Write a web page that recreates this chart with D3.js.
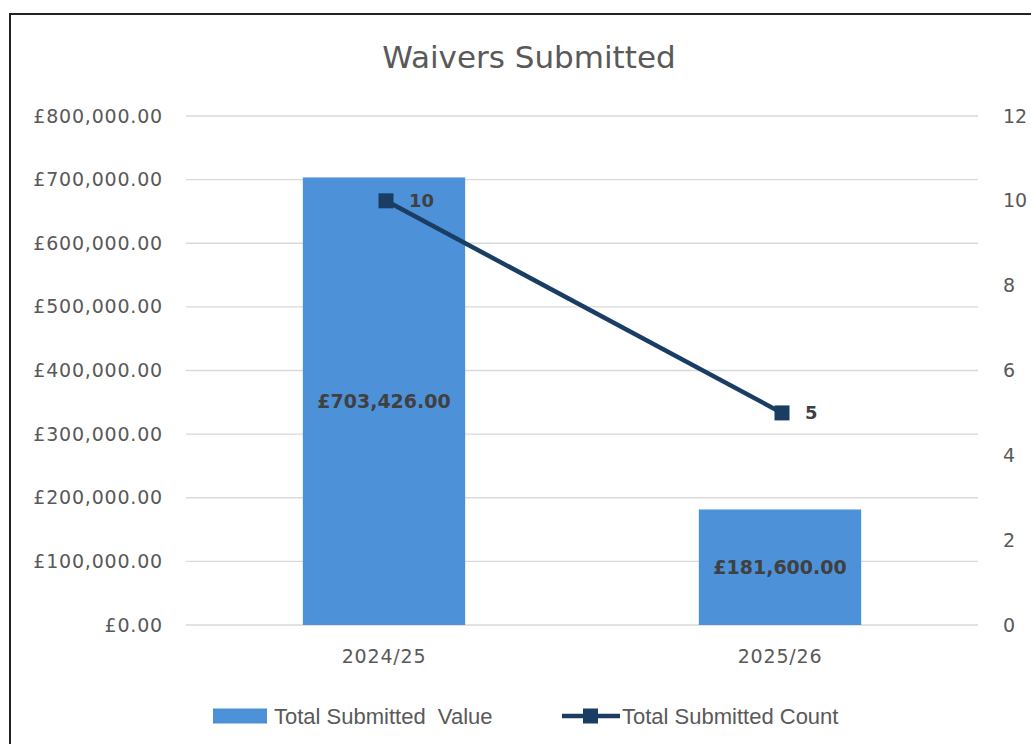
<!DOCTYPE html>
<html>
<head>
<meta charset="UTF-8">
<title>Waivers Submitted</title>
<script src="https://d3js.org/d3.v7.min.js"></script>
<style>
  body { margin: 0; background: #fff; }
  svg text { font-family: "DejaVu Sans", "Liberation Sans", Arial, sans-serif; }
</style>
</head>
<body>
<div id="chart"></div>
<script>
// data
var years = ["2024/25", "2025/26"];
var submittedValue = [703426, 181600];
var submittedCount = [10, 5];
var valueTicks = [0, 100000, 200000, 300000, 400000, 500000, 600000, 700000, 800000];
var countTicks = [0, 2, 4, 6, 8, 10, 12];
var seriesNames = ["Total Submitted  Value", "Total Submitted Count"];

var W = 1031, H = 744;
var plot = {left: 186, right: 978, top: 116, bottom: 625};
var barColor = "#4d92d8", lineColor = "#1a3d64", textColor = "#595959", labelColor = "#404040";

var svg = d3.select("#chart").append("svg").attr("width", W).attr("height", H);

// frame of the chart area
svg.append("rect")
  .attr("x", 10).attr("y", 14).attr("width", W + 20).attr("height", H + 20)
  .attr("fill", "#fff").attr("stroke", "#222").attr("stroke-width", 2);

var x = d3.scaleBand().domain(years).range([plot.left, plot.right]).paddingInner(0.59).paddingOuter(0.295);
var yL = d3.scaleLinear().domain([0, 800000]).range([plot.bottom, plot.top]);
var yR = d3.scaleLinear().domain([0, 12]).range([plot.bottom, plot.top]);

var money = function (v) { return "£" + d3.format(",.2f")(v); };

// gridlines
svg.append("g").selectAll("line").data(valueTicks).join("line")
  .attr("x1", plot.left).attr("x2", plot.right)
  .attr("y1", function (d) { return yL(d); }).attr("y2", function (d) { return yL(d); })
  .attr("stroke", "#d9d9d9").attr("stroke-width", 1.3);

// left axis
var axL = svg.append("g").attr("transform", "translate(" + (plot.left - 23) + ",0)")
  .call(d3.axisLeft(yL).tickValues(valueTicks).tickFormat(money).tickSize(0).tickPadding(0));
axL.select(".domain").remove();
axL.selectAll("text").attr("fill", textColor).style("font-size", "19px").style("letter-spacing", "0.8px");

// right axis
var axR = svg.append("g").attr("transform", "translate(" + (plot.right + 25) + ",0)")
  .call(d3.axisRight(yR).tickValues(countTicks).tickSize(0).tickPadding(0));
axR.select(".domain").remove();
axR.selectAll("text").attr("fill", textColor).style("font-size", "19px");

// x axis
var axX = svg.append("g").attr("transform", "translate(0," + (plot.bottom + 24) + ")")
  .call(d3.axisBottom(x).tickSize(0).tickPadding(0));
axX.select(".domain").remove();
axX.selectAll("text").attr("fill", textColor).style("font-size", "19px").style("letter-spacing", "0.8px").attr("dy", "0.71em");

// bars
svg.append("g").selectAll("rect").data(years).join("rect")
  .attr("x", function (d) { return x(d); })
  .attr("width", x.bandwidth())
  .attr("y", function (d, i) { return yL(submittedValue[i]); })
  .attr("height", function (d, i) { return yL(0) - yL(submittedValue[i]); })
  .attr("fill", barColor);

svg.append("g").selectAll("text").data(years).join("text")
  .attr("x", function (d) { return x(d) + x.bandwidth() / 2; })
  .attr("y", function (d, i) { return (yL(submittedValue[i]) + yL(0)) / 2; })
  .attr("dy", "0.35em").attr("text-anchor", "middle")
  .style("font-size", "19px").style("font-weight", "bold").attr("fill", labelColor)
  .text(function (d, i) { return money(submittedValue[i]); });

// line
var cx = function (d, i) { return x(years[i]) + x.bandwidth() / 2 + 2; };
svg.append("path").datum(submittedCount)
  .attr("d", d3.line().x(cx).y(function (d) { return yR(d); }))
  .attr("fill", "none").attr("stroke", lineColor).attr("stroke-width", 4.5);

svg.append("g").selectAll("rect").data(submittedCount).join("rect")
  .attr("x", function (d, i) { return cx(d, i) - 7.5; })
  .attr("y", function (d) { return yR(d) - 7.5; })
  .attr("width", 15).attr("height", 15).attr("fill", lineColor);

svg.append("g").selectAll("text").data(submittedCount).join("text")
  .attr("x", function (d, i) { return cx(d, i) + 23; })
  .attr("y", function (d) { return yR(d); })
  .attr("dy", "0.35em")
  .style("font-size", "18px").style("font-weight", "bold").attr("fill", labelColor)
  .text(function (d) { return d; });

// title
svg.append("text").attr("x", 529).attr("y", 68).attr("text-anchor", "middle")
  .style("font-size", "31px").attr("fill", textColor).text("Waivers Submitted");

// legend
var lg = svg.append("g").attr("transform", "translate(0,716)");
lg.append("rect").attr("x", 213).attr("y", -7.5).attr("width", 54).attr("height", 15).attr("fill", barColor);
lg.append("text").attr("x", 274).attr("dy", "0.35em").style("font-size", "22px")
  .style("font-family", "'Liberation Sans', Arial, sans-serif").style("white-space", "pre")
  .attr("fill", textColor).text(seriesNames[0]);
lg.append("line").attr("x1", 562).attr("x2", 620).attr("stroke", lineColor).attr("stroke-width", 4.5);
lg.append("rect").attr("x", 583).attr("y", -7.5).attr("width", 15).attr("height", 15).attr("fill", lineColor);
lg.append("text").attr("x", 622).attr("dy", "0.35em").style("font-size", "22px")
  .style("font-family", "'Liberation Sans', Arial, sans-serif")
  .attr("fill", textColor).text(seriesNames[1]);
</script>
</body>
</html>
